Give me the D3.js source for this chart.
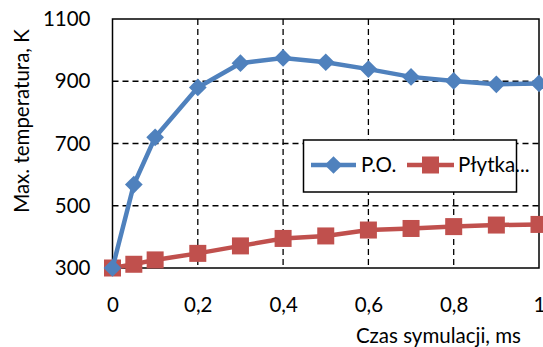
<!DOCTYPE html>
<html><head><meta charset="utf-8">
<script src="https://cdn.jsdelivr.net/npm/d3@7"></script>
<style>body{margin:0;background:#fff}svg{display:block}text{font-family:Lato,"Open Sans",sans-serif;fill:#000}</style>
</head><body>
<svg id="c" width="543" height="347"></svg>
<script>
const xValues = [0, 0.05, 0.1, 0.2, 0.3, 0.4, 0.5, 0.6, 0.7, 0.8, 0.9, 1.0];
const poValues = [300, 568, 720, 880, 958, 975, 961, 939, 914, 901, 890, 893];
const plytkaValues = [300, 312, 326, 347, 371, 395, 403, 422, 427, 433, 438, 440];
const xTicks = [0, 0.2, 0.4, 0.6, 0.8, 1];
const yTicks = [300, 500, 700, 900, 1100];
const seriesNames = ["P.O.", "Płytka..."];
const xTitle = "Czas symulacji, ms";
const yTitle = "Max. temperatura, K";

const FS = 20.5;
const svg = d3.select("#c");
const L = 112.5, R = 539, T = 19, B = 268;
const x = d3.scaleLinear().domain([0, 1]).range([L, R]);
const y = d3.scaleLinear().domain([300, 1100]).range([B, T]);
const fmt = d => String(d).replace(".", ",");

// grid
const g = svg.append("g");
g.selectAll(".gx").data(xTicks.filter(d => d > 0 && d < 1)).enter().append("line")
  .attr("x1", d => x(d)).attr("x2", d => x(d)).attr("y1", T).attr("y2", B)
  .attr("stroke", "#000").attr("stroke-width", 1.3).attr("stroke-dasharray", "6,4");
g.selectAll(".gy").data(yTicks.filter(d => d > 300 && d < 1100)).enter().append("line")
  .attr("x1", L).attr("x2", R).attr("y1", d => y(d)).attr("y2", d => y(d))
  .attr("stroke", "#000").attr("stroke-width", 1.3).attr("stroke-dasharray", "6,4");

// frame
svg.append("rect").attr("x", L).attr("y", T).attr("width", R - L).attr("height", B - T)
  .attr("fill", "none").attr("stroke", "#000").attr("stroke-width", 1.5);

// axes (labels only)
const yAxis = d3.axisLeft(y).tickValues(yTicks).tickSize(0).tickPadding(22).tickFormat(d => d);
const ya = svg.append("g").attr("transform", `translate(${L},0)`).call(yAxis);
ya.select(".domain").remove();
ya.selectAll("text").attr("font-size", FS).style("font-family", "Lato");

const xAxis = d3.axisBottom(x).tickValues(xTicks).tickSize(0).tickPadding(29).tickFormat(fmt);
const xa = svg.append("g").attr("transform", `translate(0,${B})`).call(xAxis);
xa.select(".domain").remove();
xa.selectAll("text").attr("font-size", FS).style("font-family", "Lato");

// titles
svg.append("text").attr("x", 521).attr("y", 343).attr("text-anchor", "end")
  .attr("font-size", FS).text(xTitle);
svg.append("text").attr("transform", "translate(29,121) rotate(-90)").attr("text-anchor", "middle")
  .attr("font-size", FS).text(yTitle);

const line = d3.line().x((d, i) => x(xValues[i])).y(d => y(d));
const blue = "#4F81BD", red = "#C0504D";
const SQ = 17;

// red series
svg.append("path").datum(plytkaValues).attr("d", line).attr("fill", "none")
  .attr("stroke", red).attr("stroke-width", 4.5);
svg.selectAll(".sq").data(plytkaValues).enter().append("rect")
  .attr("x", (d, i) => x(xValues[i]) - SQ / 2).attr("y", d => y(d) - SQ / 2)
  .attr("width", SQ).attr("height", SQ).attr("fill", red);

// blue series
svg.append("path").datum(poValues).attr("d", line).attr("fill", "none")
  .attr("stroke", blue).attr("stroke-width", 4.5);
const diamond = d3.symbol().type(d3.symbolDiamond2).size(200);
svg.selectAll(".dm").data(poValues).enter().append("path")
  .attr("transform", (d, i) => `translate(${x(xValues[i])},${y(d)})`)
  .attr("d", diamond).attr("fill", blue);

// legend
const lg = svg.append("g");
lg.append("rect").attr("x", 303.5).attr("y", 140).attr("width", 213).attr("height", 52)
  .attr("fill", "#fff").attr("stroke", "#000").attr("stroke-width", 1.5);
lg.append("line").attr("x1", 311).attr("x2", 356).attr("y1", 165).attr("y2", 165)
  .attr("stroke", blue).attr("stroke-width", 4.5);
lg.append("path").attr("transform", "translate(333.5,165)").attr("d", diamond).attr("fill", blue);
lg.append("text").attr("x", 361).attr("y", 172).attr("font-size", FS).text(seriesNames[0]);
lg.append("line").attr("x1", 407).attr("x2", 454).attr("y1", 165).attr("y2", 165)
  .attr("stroke", red).attr("stroke-width", 4.5);
lg.append("rect").attr("x", 430.5 - SQ / 2).attr("y", 165 - SQ / 2).attr("width", SQ).attr("height", SQ).attr("fill", red);
lg.append("text").attr("x", 458).attr("y", 172).attr("font-size", FS).text(seriesNames[1]);
</script>
</body></html>
